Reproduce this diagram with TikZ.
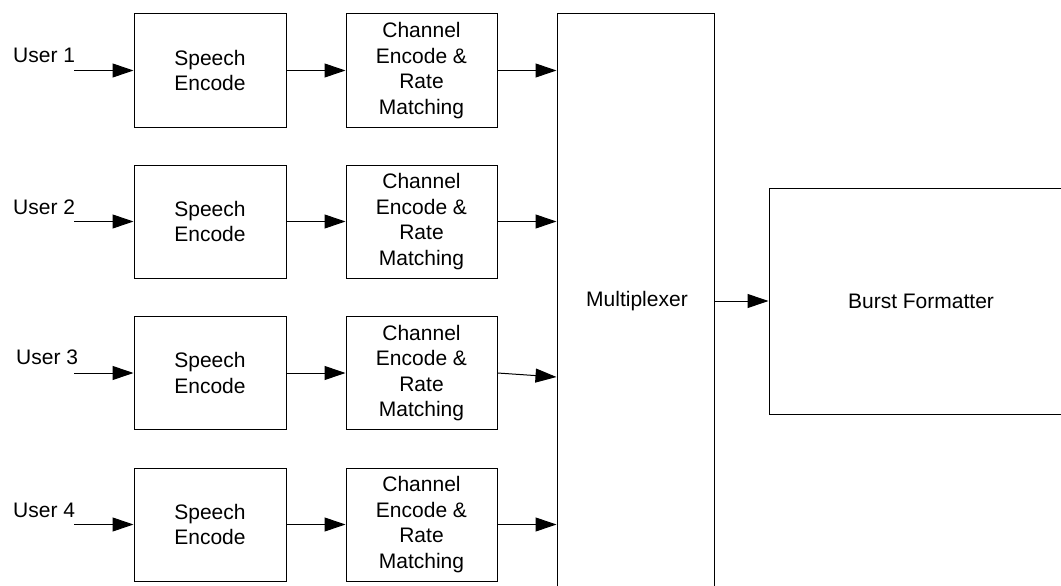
\documentclass[tikz,border=0pt]{standalone}
\usepackage{fontspec}
\setmainfont{Liberation Sans}
\usetikzlibrary{arrows.meta}
\begin{document}
\begin{tikzpicture}[x=1pt,y=-1pt,
  every node/.style={font=\fontsize{21}{25.5}\selectfont},
  block/.style={draw=black,line width=1pt,rectangle,inner sep=0pt,align=center,fill=white},
  sbox/.style={block,minimum width=152pt,minimum height=113pt},
  cbox/.style={block,minimum width=151pt,minimum height=113pt},
  lbl/.style={anchor=base west,inner sep=0pt},
  conn/.style={line width=1pt,-{Triangle[length=21pt,width=14pt]}}]
\useasboundingbox (0,0) rectangle (1061,586);
\clip (0,0) rectangle (1061,586);
% blocks
\node[sbox] (s1) at (210,70.5) {Speech\\Encode};
\node[sbox] (s2) at (210,221.5) {Speech\\Encode};
\node[sbox] (s3) at (210,373) {Speech\\Encode};
\node[sbox] (s4) at (210,524.5) {Speech\\Encode};
\node[cbox] (c1) at (421.5,70.5) {Channel\\Encode \&\\Rate\\Matching};
\node[cbox] (c2) at (421.5,221.5) {Channel\\Encode \&\\Rate\\Matching};
\node[cbox] (c3) at (421.5,373) {Channel\\Encode \&\\Rate\\Matching};
\node[cbox] (c4) at (421.5,524.5) {Channel\\Encode \&\\Rate\\Matching};
\node[block,minimum width=157pt,minimum height=606pt] (mux) at (635.5,317) {};
\node at (637,301) (muxl) {Multiplexer};
\node[block,minimum width=304pt,minimum height=226pt] (bf) at (921,301) {Burst Formatter};
% labels
\node[lbl] (l1) at (13,63) {User 1};
\node[lbl] (l2) at (13,214) {User 2};
\node[lbl] (l3) at (16,364) {User 3};
\node[lbl] (l4) at (13,517) {User 4};
\coordinate (u1) at (74,70.5);
\coordinate (u2) at (74,221.5);
\coordinate (u3) at (74,373);
\coordinate (u4) at (74,524.5);
% connectors
\draw[conn] (u1) -- (s1.west);
\draw[conn] (u2) -- (s2.west);
\draw[conn] (u3) -- (s3.west);
\draw[conn] (u4) -- (s4.west);
\draw[conn] (s1.east) -- (c1.west);
\draw[conn] (s2.east) -- (c2.west);
\draw[conn] (s3.east) -- (c3.west);
\draw[conn] (s4.east) -- (c4.west);
\draw[conn] (c1.east) -- (mux.west |- c1.east);
\draw[conn] (c2.east) -- (mux.west |- c2.east);
\draw[conn] (c3.east) -- ([yshift=-4pt]mux.west |- c3.east);
\draw[conn] (c4.east) -- (mux.west |- c4.east);
\draw[conn] (mux.east |- bf.west) -- (bf.west);
\end{tikzpicture}
\end{document}
